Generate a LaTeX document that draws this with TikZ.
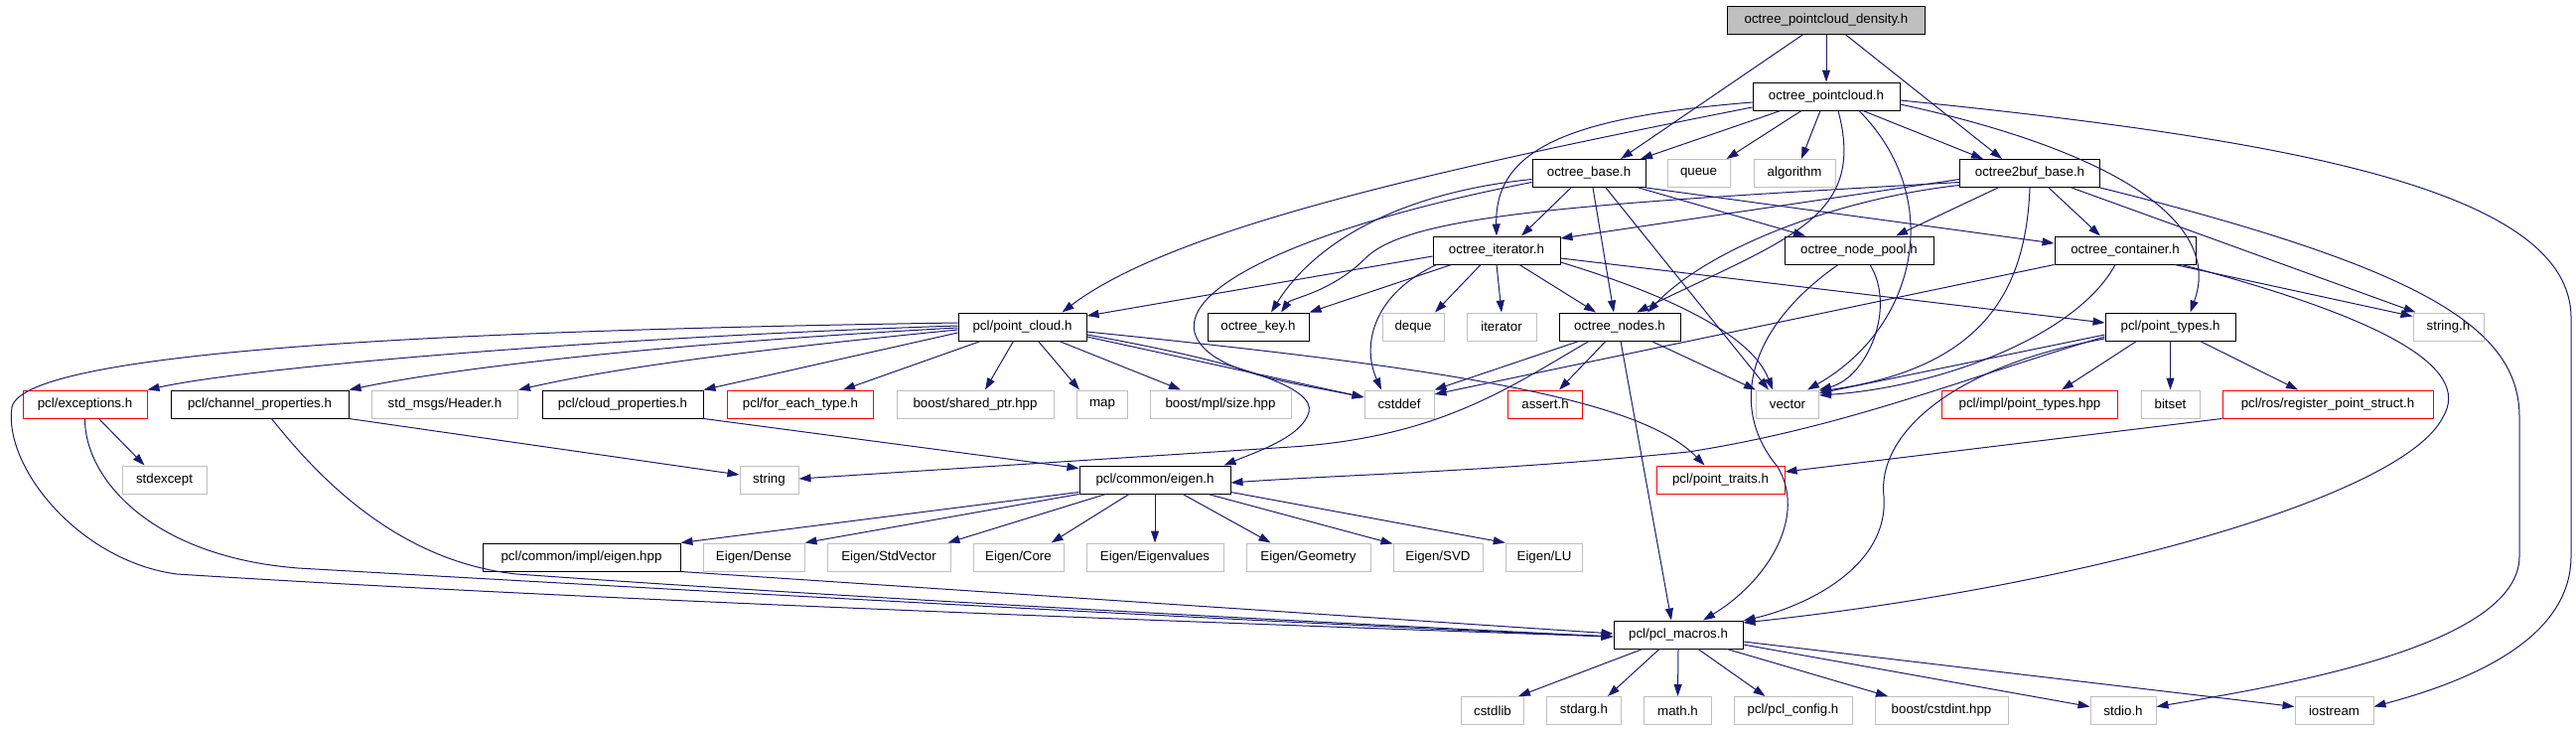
\documentclass[tikz,border=0pt]{standalone}
\usepackage{fontspec}
\setmainfont{Liberation Sans}
\usetikzlibrary{arrows.meta}
\definecolor{edgecol}{HTML}{191970}
\definecolor{greyfill}{HTML}{BFBFBF}
\begin{document}
\begin{tikzpicture}[x=1pt,y=-1pt,font=\fontsize{13.3pt}{16pt}\selectfont]
\tikzset{
 box/.style={rectangle, inner sep=0pt, minimum height=28pt, line width=1pt, text=black, fill=white},
 doc/.style={box, draw=black},
 ext/.style={box, draw=greyfill},
 undoc/.style={box, draw=red},
 topnode/.style={box, draw=black, fill=greyfill},
 dep/.style={draw=edgecol, line width=1pt, line join=round, -{Triangle[length=12pt,width=8pt]}},
}
\useasboundingbox (0,0) rectangle (2594,736);
% row 1-4
\node[topnode, minimum width=199pt] (D) at (1839,20) {octree\_pointcloud\_density.h};
\node[doc, minimum width=148pt] (P) at (1839,97) {octree\_pointcloud.h};
\node[doc, minimum width=114pt] (B) at (1600,174.5) {octree\_base.h};
\node[ext, minimum width=63pt] (Q) at (1710.5,174.5) {queue};
\node[ext, minimum width=82pt] (AL) at (1807,174.5) {algorithm};
\node[doc, minimum width=141pt] (B2) at (2044,174.5) {octree2buf\_base.h};
\node[doc, minimum width=128pt] (I) at (1507,252) {octree\_iterator.h};
\node[doc, minimum width=150pt] (NP) at (1872,252) {octree\_node\_pool.h};
\node[doc, minimum width=142pt] (C) at (2140,252) {octree\_container.h};
% row 5
\node[doc, minimum width=129pt] (PC) at (1029.5,329) {pcl/point\_cloud.h};
\node[doc, minimum width=102pt] (K) at (1267,329) {octree\_key.h};
\node[ext, minimum width=62pt] (DQ) at (1423,329) {deque};
\node[ext, minimum width=70pt] (IT) at (1512,329) {iterator};
\node[doc, minimum width=122pt] (N) at (1631,329) {octree\_nodes.h};
\node[doc, minimum width=131pt] (PT) at (2185.5,329) {pcl/point\_types.h};
\node[ext, minimum width=71pt] (SH) at (2465.5,329) {string.h};
% row 6
\node[undoc, minimum width=125pt] (E) at (85.5,407) {pcl/exceptions.h};
\node[doc, minimum width=179pt] (CH) at (261.5,407) {pcl/channel\_properties.h};
\node[ext, minimum width=147pt] (HD) at (448,407) {std\_msgs/Header.h};
\node[doc, minimum width=162pt] (CL) at (627,407) {pcl/cloud\_properties.h};
\node[undoc, minimum width=147pt] (FE) at (806,407) {pcl/for\_each\_type.h};
\node[ext, minimum width=158pt] (SP) at (982,407) {boost/shared\_ptr.hpp};
\node[ext, minimum width=51pt] (MAP) at (1110,407) {map};
\node[ext, minimum width=142pt] (MS) at (1229,407) {boost/mpl/size.hpp};
\node[ext, minimum width=70pt] (CD) at (1409,407) {cstddef};
\node[undoc, minimum width=75pt] (AS) at (1556,407) {assert.h};
\node[ext, minimum width=63pt] (V) at (1800,407) {vector};
\node[undoc, minimum width=177pt] (IPT) at (2044,407) {pcl/impl/point\_types.hpp};
\node[ext, minimum width=59pt] (BS) at (2185.5,407) {bitset};
\node[undoc, minimum width=212pt] (RS) at (2344,407) {pcl/ros/register\_point\_struct.h};
% row 7
\node[ext, minimum width=85pt] (SE) at (165.5,483) {stdexcept};
\node[ext, minimum width=59pt] (STR) at (774.5,483) {string};
\node[doc, minimum width=152pt] (EI) at (1163,483) {pcl/common/eigen.h};
\node[undoc, minimum width=129pt] (TR) at (1732.5,483) {pcl/point\_traits.h};
% row 8
\node[doc, minimum width=199pt] (EH) at (585.5,561) {pcl/common/impl/eigen.hpp};
\node[ext, minimum width=102pt] (ED) at (759,561) {Eigen/Dense};
\node[ext, minimum width=124pt] (ESV) at (895,561) {Eigen/StdVector};
\node[ext, minimum width=91pt] (EC) at (1025.5,561) {Eigen/Core};
\node[ext, minimum width=138pt] (EEV) at (1163,561) {Eigen/Eigenvalues};
\node[ext, minimum width=125pt] (EG) at (1317.5,561) {Eigen/Geometry};
\node[ext, minimum width=90pt] (ESVD) at (1448,561) {Eigen/SVD};
\node[ext, minimum width=77.5pt] (ELU) at (1555,561) {Eigen/LU};
% row 9-10
\node[doc, minimum width=130pt] (M) at (1690,639) {pcl/pcl\_macros.h};
\node[ext, minimum width=63pt] (CSL) at (1503,715.5) {cstdlib};
\node[ext, minimum width=75pt] (SA) at (1595,715.5) {stdarg.h};
\node[ext, minimum width=68pt] (MH) at (1689.5,715.5) {math.h};
\node[ext, minimum width=119pt] (CFG) at (1805.5,715.5) {pcl/pcl\_config.h};
\node[ext, minimum width=134pt] (CI) at (1955,715.5) {boost/cstdint.hpp};
\node[ext, minimum width=66pt] (SIO) at (2138,715.5) {stdio.h};
\node[ext, minimum width=79pt] (IOS) at (2350.5,715.5) {iostream};

% D
\draw[dep] (D.south) -- (P.north);
\draw[dep] ([xshift=-23pt]D.south) -- ([xshift=32pt]B.north);
\draw[dep] ([xshift=19pt]D.south) -- ([xshift=-28pt]B2.north);
% P
\draw[dep] ([xshift=-46pt]P.south) -- ([xshift=52pt]B.north);
\draw[dep] ([xshift=-25pt]P.south) -- ([xshift=28pt]Q.north);
\draw[dep] ([xshift=-6pt]P.south) -- ([xshift=7pt]AL.north);
\draw[dep] ([xshift=37pt]P.south) -- ([xshift=-47pt]B2.north);
\draw[dep] ([yshift=-6pt]P.west) .. controls (1580,118) and (1505,150) .. (I.north);
\draw[dep] ([yshift=-11pt]P.west) .. controls (1450,170) and (1180,230) .. ([xshift=40pt]PC.north);
\draw[dep] ([xshift=12pt]P.south) .. controls (1880,220) and (1800,240) .. ([xshift=17pt]N.north);
\draw[dep] ([xshift=33pt]P.south) .. controls (1960,200) and (1930,330) .. ([xshift=20pt]V.north);
\draw[dep] ([yshift=-8pt]P.east) .. controls (2120,150) and (2240,220) .. ([xshift=20pt]PT.north);
\draw[dep] ([yshift=-4pt]P.east) .. controls (2300,140) and (2589,190) .. (2589,320) -- (2589,560) .. controls (2589,650) and (2470,690) .. ([yshift=4pt]IOS.east);
% B
\draw[dep] ([xshift=-18pt]B.south) -- ([xshift=25pt]I.north);
\draw[dep] ([xshift=4pt]B.south) -- ([xshift=-6pt]N.north);
\draw[dep] ([xshift=17pt]B.south) -- ([xshift=-19pt]V.north);
\draw[dep] ([xshift=50pt]B.south) -- ([xshift=-54pt]NP.north);
\draw[dep] (B.south east) -- ([yshift=7pt]C.west);
\draw[dep] ([yshift=-6pt]B.west) .. controls (1400,195) and (1320,250) .. ([xshift=13pt]K.north);
\draw[dep] ([yshift=-9pt]B.west) .. controls (1330,225) and (1190,285) .. (1203,335) .. controls (1215,375) and (1300,385) .. ([yshift=7pt]CD.west);
% I
\draw[dep] ([xshift=4pt]I.south west) .. controls (1385,295) and (1370,345) .. ([xshift=-18pt]CD.north);
\draw[dep] ([xshift=19pt]I.south west) -- (K.north east);
\draw[dep] ([yshift=-6pt]I.west) -- ([yshift=11pt]PC.east);
\draw[dep] ([xshift=-16pt]I.south) -- ([xshift=22pt]DQ.north);
\draw[dep] (I.south) -- (IT.north);
\draw[dep] ([xshift=23pt]I.south) -- ([xshift=-24pt]N.north);
\draw[dep] ([yshift=-12pt]I.east) .. controls (1690,300) and (1765,340) .. ([xshift=-15pt]V.north);
\draw[dep] ([yshift=-8pt]I.east) -- ([yshift=4pt]PT.west);
% B2
\draw[dep] ([yshift=-6pt]B2.west) -- ([yshift=12pt]I.east);
\draw[dep] ([yshift=-9pt]B2.west) .. controls (1600,205) and (1420,215) .. (1375,260) .. controls (1340,295) and (1300,300) .. ([xshift=23pt]K.north);
\draw[dep] ([yshift=-12pt]B2.west) .. controls (1850,200) and (1720,250) .. ([xshift=28pt]N.north);
\draw[dep] ([xshift=-32pt]B2.south) -- ([xshift=37pt]NP.north);
\draw[dep] (B2.south) .. controls (2040,290) and (2000,370) .. ([yshift=13pt]V.east);
\draw[dep] ([xshift=19pt]B2.south) -- ([xshift=-25pt]C.north);
\draw[dep] ([xshift=42pt]B2.south) -- ([xshift=3pt]SH.north west);
\draw[dep] (B2.south east) .. controls (2440,270) and (2537,330) .. (2537,420) -- (2537,560) .. controls (2537,650) and (2300,690) .. ([yshift=4pt]SIO.east);
% C
\draw[dep] (C.south west) -- ([yshift=10pt]CD.east);
\draw[dep] ([xshift=-10pt]C.south) .. controls (2090,340) and (1950,390) .. ([yshift=9pt]V.east);
\draw[dep] ([xshift=50pt]C.south) -- ([yshift=-4pt]SH.north west);
\draw[dep] ([xshift=57pt]C.south) .. controls (2400,320) and (2490,370) .. (2460,420) .. controls (2420,500) and (2100,590) .. ([yshift=12pt]M.east);
% NP
\draw[dep] ([xshift=11pt]NP.south) .. controls (1910,310) and (1880,380) .. (V.north east);
\draw[dep] ([xshift=-21pt]NP.south) .. controls (1760,330) and (1740,410) .. (1790,470) .. controls (1820,520) and (1780,585) .. ([xshift=25pt]M.north);
% N
\draw[dep] ([xshift=-41pt]N.south) -- (CD.north east);
\draw[dep] ([xshift=-31pt]N.south) .. controls (1520,390) and (1450,440) .. (1300,450) -- ([yshift=1pt]STR.east);
\draw[dep] ([xshift=-14pt]N.south) -- ([xshift=14pt]AS.north);
\draw[dep] ([xshift=1pt]N.south) -- ([xshift=-7pt]M.north);
\draw[dep] ([xshift=32pt]N.south) -- (V.north west);
% PT
\draw[dep] ([xshift=-34pt]PT.south) -- ([xshift=32pt]IPT.north);
\draw[dep] (PT.south) -- (BS.north);
\draw[dep] ([xshift=30pt]PT.south) -- ([xshift=-30pt]RS.north);
\draw[dep] ([yshift=-8pt]PT.west) -- ([yshift=11pt]V.east);
\draw[dep] ([yshift=-10pt]PT.west) .. controls (1980,380) and (1860,430) .. (1700,455) .. controls (1500,475) and (1350,478) .. ([yshift=-3pt]EI.east);
\draw[dep] ([yshift=-12pt]PT.west) .. controls (1960,370) and (1890,440) .. (1897,500) .. controls (1902,570) and (1820,610) .. ([yshift=14pt]M.east);
% RS
\draw[dep] (RS.south west) -- ([yshift=8pt]TR.east);
% PC
\draw[dep] ([yshift=1pt]PC.west) .. controls (600,340) and (250,370) .. (E.north east);
\draw[dep] ([yshift=-1pt]PC.west) .. controls (650,347) and (450,372) .. (CH.north east);
\draw[dep] ([yshift=-3pt]PC.west) .. controls (700,358) and (600,375) .. (HD.north east);
\draw[dep] ([yshift=-6pt]PC.west) -- (CL.north east);
\draw[dep] ([yshift=4pt]PC.west) .. controls (500,332) and (25,350) .. (12,410) .. controls (3,470) and (80,565) .. (178,578) .. controls (600,605) and (1300,630) .. ([yshift=-2pt]M.west);
\draw[dep] ([xshift=-42pt]PC.south) -- ([xshift=43pt]FE.north);
\draw[dep] ([xshift=-9pt]PC.south) -- ([xshift=10pt]SP.north);
\draw[dep] ([xshift=16pt]PC.south) -- ([xshift=-23pt]MAP.north);
\draw[dep] ([xshift=37pt]PC.south) -- ([xshift=-40pt]MS.north);
\draw[dep] ([yshift=-10pt]PC.east) -- ([yshift=7pt]CD.west);
\draw[dep] ([yshift=-5pt]PC.east) .. controls (1450,370) and (1650,400) .. ([xshift=-16pt]TR.north);
\draw[dep] ([yshift=-8pt]PC.east) .. controls (1250,365) and (1325,390) .. (1318,415) .. controls (1311,440) and (1265,455) .. ([xshift=-7pt]EI.north east);
% E, CH, CL
\draw[dep] ([xshift=14pt]E.south) -- ([xshift=-20pt]SE.north);
\draw[dep] (E.south) .. controls (85,480) and (150,560) .. (300,572) .. controls (700,595) and (1300,628) .. ([yshift=-2pt]M.west);
\draw[dep] (CH.south east) -- ([yshift=5pt]STR.west);
\draw[dep] ([xshift=12pt]CH.south) .. controls (320,480) and (400,565) .. (520,578) .. controls (900,605) and (1400,630) .. ([yshift=-2pt]M.west);
\draw[dep] (CL.south east) -- ([yshift=-3pt]EI.north west);
% EI
\draw[dep] ([yshift=2pt]EI.south west) -- (EH.north east);
\draw[dep] (EI.south west) -- (ED.north east);
\draw[dep] ([xshift=27pt]EI.south west) -- ([xshift=-3pt]ESV.north east);
\draw[dep] ([xshift=-26pt]EI.south) -- ([xshift=33pt]EC.north);
\draw[dep] (EI.south) -- (EEV.north);
\draw[dep] ([xshift=28pt]EI.south) -- ([xshift=-38pt]EG.north);
\draw[dep] ([xshift=-23pt]EI.south east) -- ([yshift=-1pt]ESVD.north west);
\draw[dep] ([yshift=2pt]EI.south east) -- (ELU.north west);
% EH
\draw[dep] (EH.south east) -- ([yshift=1pt]M.west);
% M
\draw[dep] ([xshift=-36pt]M.south) -- ([xshift=26pt]CSL.north);
\draw[dep] ([xshift=-19pt]M.south) -- ([xshift=24pt]SA.north);
\draw[dep] (M.south) -- (MH.north);
\draw[dep] ([xshift=20pt]M.south) -- ([xshift=-28pt]CFG.north);
\draw[dep] ([xshift=49pt]M.south) -- ([xshift=-54pt]CI.north);
\draw[dep] ([yshift=-10pt]M.east) -- ([yshift=4pt]SIO.west);
\draw[dep] ([yshift=-7pt]M.east) -- ([yshift=4pt]IOS.west);
\end{tikzpicture}
\end{document}
